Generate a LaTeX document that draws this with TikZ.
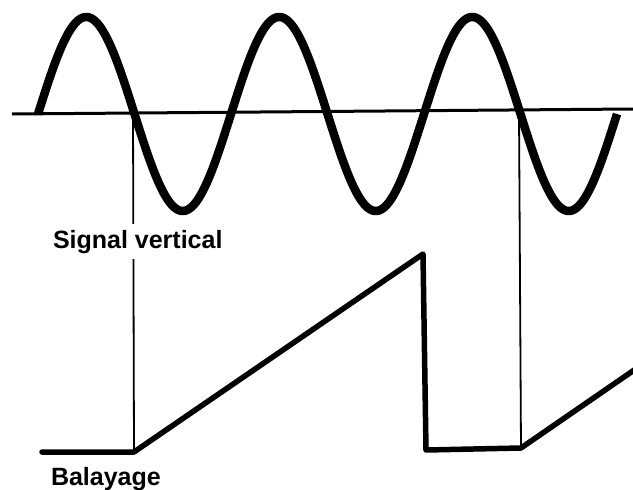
\documentclass[tikz,border=0pt]{standalone}
\usepackage{fontspec}
\setmainfont{Liberation Sans}
\begin{document}
\begin{tikzpicture}[x=1pt,y=-1pt,
  wave/.style={line width=8.5pt,line cap=butt,line join=round},
  axisline/.style={line width=3pt},
  guide/.style={line width=1.8pt},
  saw/.style={line width=5.5pt,line join=round,line cap=round},
  lbl/.style={font=\fontsize{25}{29}\selectfont\bfseries,anchor=base west,inner sep=0pt,outer sep=0pt}]
\useasboundingbox (0,0) rectangle (633,490);
% coordinates
\coordinate (axL) at (12,114);
\coordinate (axR) at (633,109);
\coordinate (g1t) at (133,113);
\coordinate (g1b) at (134,452);
\coordinate (g2t) at (519,111);
\coordinate (g2b) at (521,448);
\coordinate (s0) at (42,452);
\coordinate (s1) at (134,452);
\coordinate (s2) at (423,254);
\coordinate (s3) at (426,450);
\coordinate (s4) at (521,448);
\coordinate (s5) at (640,366);
% axis
\draw[axisline] (axL) -- (axR);
% guide lines
\draw[guide] (g1t) -- (g1b);
\draw[guide] (g2t) -- (g2b);
% sine wave
\draw[wave] plot[domain=0:1080,samples=361,smooth] ({38+\x/360*193},{114-97*sin(\x)});
% sawtooth
\draw[saw] (s0) -- (s1) -- (s2) -- (s3) -- (s4) -- (s5);
% labels
\node[lbl,fill=white,inner ysep=6pt,inner xsep=1pt] (sv) at (52,248) {Signal vertical};
\node[lbl] (bal) at (51,485) {Balayage};
\end{tikzpicture}
\end{document}
